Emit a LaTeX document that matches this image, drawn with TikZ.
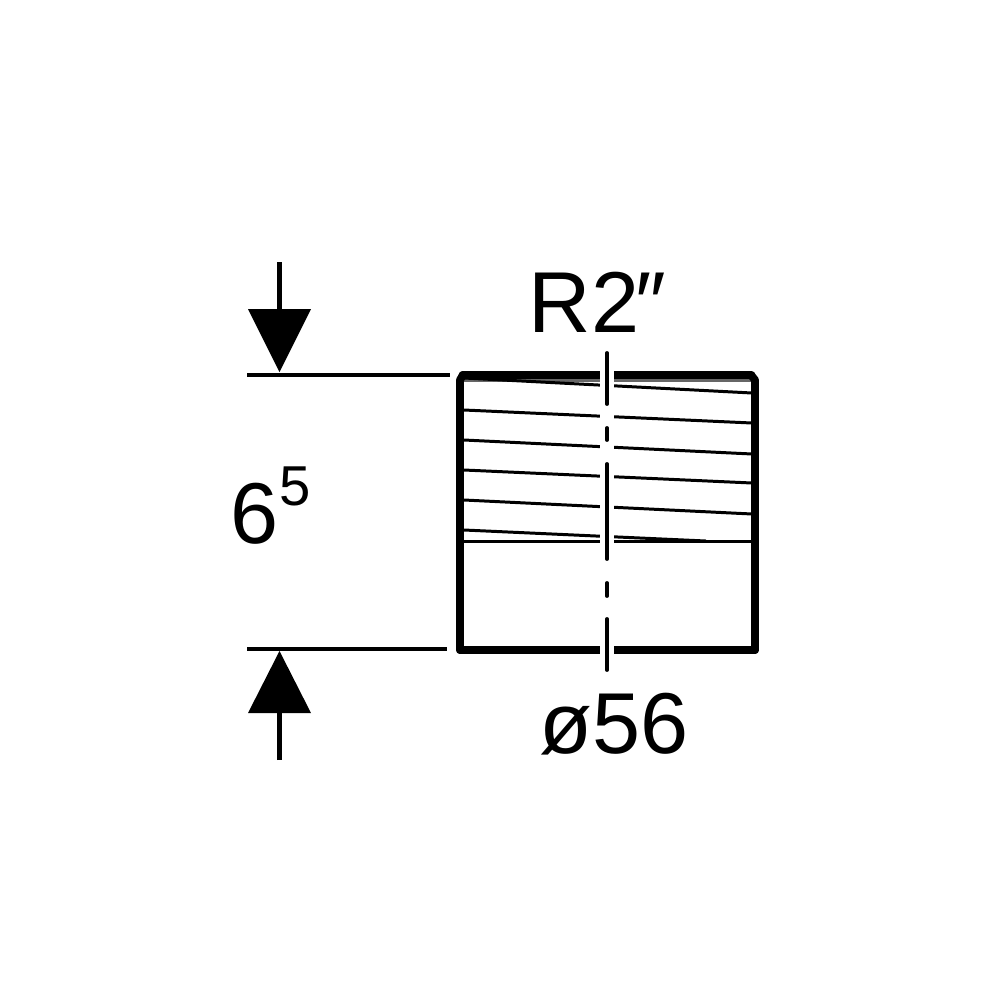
\documentclass[tikz,border=0pt]{standalone}
\usepackage{fontspec}
\setmainfont{Liberation Sans}
\begin{document}
\begin{tikzpicture}[
    x=0.1mm, y=-0.1mm,
    dimline/.style={line width=1.15pt, black},
    body/.style={line width=2.25pt, black, line cap=round, line join=round},
    thread/.style={line width=0.85pt, black},
    axisline/.style={line width=1.1pt, black, line cap=round},
    tip/.style={fill=black, draw=none},
    big/.style={font=\fontsize{24.6}{28}\selectfont, inner sep=0pt, anchor=base west},
    small/.style={font=\fontsize{16}{18}\selectfont, inner sep=0pt, anchor=base west}
]

\useasboundingbox (0,0) rectangle (1000,1000);

% Thread lines
\draw[thread, black!60] (463,380) -- (752,380);
\draw[thread] (464,378) -- (752,393);
\draw[thread] (464,410) -- (752,423);
\draw[thread] (464,440) -- (752,454);
\draw[thread] (464,470) -- (752,483);
\draw[thread] (464,500) -- (752,514);
\draw[thread] (464,530) -- (706,541);
\draw[thread] (464,541) -- (752,541);

% Body
\draw[body] (460,650) -- (460,380) -- (463,375);
\draw[body] (755,650) -- (755,380) -- (751,375);
\draw[body] (460,650) -- (755,650);
\draw[body, line width=2.5pt] (463,375) -- (751,375);

% Gap round the axis
\draw[white, line width=3.9pt] (607,368) -- (607,656);

% Axis
\draw[axisline] (607,353) -- (607,404);
\draw[axisline] (607,428) -- (607,440);
\draw[axisline] (607,464) -- (607,559);
\draw[axisline] (607,583) -- (607,596);
\draw[axisline] (607,619) -- (607,670);

% Height dimension
\coordinate (topstart) at (247,375);
\coordinate (topend) at (450,375);
\coordinate (botstart) at (247,649);
\coordinate (botend) at (447,649);
\draw[dimline] (topstart) -- (topend);
\draw[dimline] (botstart) -- (botend);

\coordinate (toptail) at (279.5,262);
\coordinate (topbase) at (279.5,310);
\coordinate (bottail) at (279.5,760);
\coordinate (botbase) at (279.5,712);
\draw[dimline] (toptail) -- (topbase);
\draw[dimline] (bottail) -- (botbase);
\fill[tip] (248,309) -- (311,309) -- (279.5,372) -- cycle;
\fill[tip] (248,713) -- (311,713) -- (279.5,651) -- cycle;

% Labels
\node[big] (thread label) at (528,332) {R2\kern-1pt″};
\node[big] (height label) at (230,543) {6};
\node[small] (height sup) at (279,505) {5};
\node[big] (dia label) at (539,753) {ø56};

\end{tikzpicture}
\end{document}
